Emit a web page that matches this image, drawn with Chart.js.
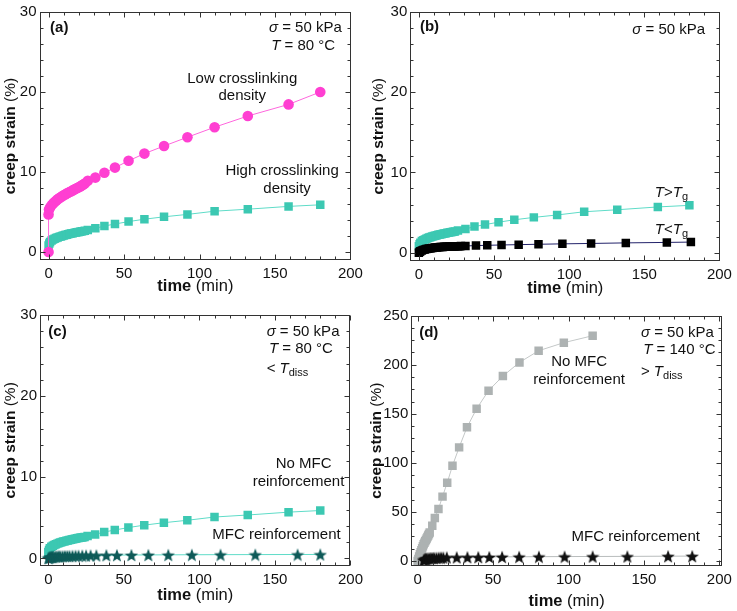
<!DOCTYPE html>
<html>
<head>
<meta charset="utf-8">
<script src="https://cdn.jsdelivr.net/npm/chart.js@4.4.1/dist/chart.umd.min.js"></script>
<style>
  body { margin: 0; background: #fff; }
  #wrap { position: relative; width: 737px; height: 611px; }
  canvas { position: absolute; }
</style>
</head>
<body>
<div id="wrap">
  <canvas id="chartA" width="368" height="300" style="left:0;top:0"></canvas>
  <canvas id="chartB" width="370" height="300" style="left:367px;top:0"></canvas>
  <canvas id="chartC" width="368" height="311" style="left:0;top:300px"></canvas>
  <canvas id="chartD" width="370" height="311" style="left:367px;top:300px"></canvas>
</div>
<script>
// tick labels
const xTicks = [0, 50, 100, 150, 200];
const yTicksSmall = [0, 10, 20, 30];
const yTicksD = [0, 50, 100, 150, 200, 250];

// high crosslinking / T>Tg / no MFC at 80 °C (teal squares, panels a, b, c)
const highTime = [0, 0.5, 1, 2, 3, 4, 5, 6, 7, 8, 9, 10, 11, 12, 13, 14, 15, 16, 17, 18, 19, 20, 21, 22, 23, 24,
  26, 31, 37, 44, 53, 63.5, 76.5, 92, 110, 132, 159, 180];
const highStrain = [0.8, 1.05, 1.25, 1.45, 1.55, 1.65, 1.75, 1.82, 1.89, 1.95, 2.01, 2.07, 2.12, 2.17, 2.22, 2.27,
  2.31, 2.35, 2.39, 2.43, 2.47, 2.5, 2.54, 2.58, 2.61, 2.65,
  2.75, 2.96, 3.25, 3.5, 3.8, 4.1, 4.4, 4.7, 5.1, 5.35, 5.7, 5.9];

// low crosslinking (pink circles, panel a)
const lowTime = [0, 0, 0.3, 1, 2, 3, 4, 5, 6, 7, 8, 9, 10, 11, 12, 13, 14, 15, 16, 17, 18, 19, 20, 21, 22, 23, 24,
  26, 31, 37, 44, 53, 63.5, 76.5, 92, 110, 132, 159, 180];
const lowStrain = [0, 4.7, 5.3, 5.55, 5.85, 6.05, 6.25, 6.42, 6.58, 6.72, 6.85, 6.97, 7.08, 7.19, 7.3, 7.4, 7.5,
  7.6, 7.7, 7.8, 7.9, 8.0, 8.1, 8.2, 8.32, 8.44, 8.55,
  8.9, 9.3, 9.9, 10.55, 11.4, 12.3, 13.25, 14.35, 15.6, 17.0, 18.45, 20.0];

// T<Tg (black squares, panel b)
const coldTime = [0, 0.5, 1, 2, 3, 4, 5, 6, 7, 8, 9, 10, 11, 12, 13, 14, 15, 16, 17, 18, 19, 20, 21, 22, 23, 24,
  25, 26, 27, 28, 31, 38, 45.5, 55, 66.4, 79.6, 95.5, 114.6, 137.7, 165, 181];
const coldStrain = [0, 0.1, 0.18, 0.28, 0.35, 0.4, 0.45, 0.49, 0.53, 0.56, 0.59, 0.62, 0.64, 0.66, 0.68, 0.7,
  0.71, 0.72, 0.73, 0.74, 0.75, 0.76, 0.77, 0.78, 0.78, 0.79, 0.8, 0.8, 0.81, 0.82,
  0.84, 0.88, 0.92, 0.96, 1.0, 1.05, 1.1, 1.15, 1.22, 1.28, 1.32];

// MFC reinforcement at 80 °C (stars, panel c)
const mfcTimeC = [0, 0.5, 1, 1.5, 2, 2.5, 3, 4, 5, 6, 7, 8, 9.5, 11, 12.5, 14, 16, 18, 20, 22.5, 25, 28,
  31.8, 38.4, 45.4, 55, 66.2, 79.4, 95, 114, 137, 165, 180];
const mfcStrainC = [0.05, 0.1, 0.13, 0.16, 0.18, 0.2, 0.21, 0.23, 0.24, 0.25, 0.26, 0.27, 0.28, 0.29, 0.3, 0.31,
  0.32, 0.33, 0.34, 0.35, 0.36, 0.37,
  0.38, 0.4, 0.41, 0.42, 0.43, 0.44, 0.45, 0.46, 0.47, 0.48, 0.49];

// no MFC at 140 °C (grey squares, panel d)
const noMfcTimeD = [0, 0.5, 1, 1.5, 2, 2.5, 3, 3.5, 4, 4.5, 5, 5.5, 6, 6.5, 7, 7.5, 8,
  9.7, 11.4, 13.8, 16.5, 19.6, 23.1, 27.5, 32.7, 39.1, 47, 56.5, 67.5, 80.2, 96.9, 116];
const noMfcStrainD = [0, 2, 4.5, 7, 9, 11, 13, 15, 17, 18.5, 20, 21.5, 23, 24.5, 26, 27.5, 29,
  36, 43.8, 53, 65.6, 79.8, 97.1, 115.8, 136.2, 155.2, 173.6, 188.5, 202.4, 214.3, 222.5, 229.6];

// MFC reinforcement at 140 °C (black stars, panel d)
const mfcTimeD = [4, 4.5, 5, 5.5, 6, 7, 8, 9, 10, 11, 12.5, 14, 15.5, 17,
  19.3, 25.9, 33, 40.2, 47.5, 56, 67.3, 80.4, 97.4, 116, 139, 166, 182];
const mfcStrainD = [1.0, 1.5, 2.0, 2.3, 2.5, 2.7, 2.9, 3.0, 3.1, 3.2, 3.3, 3.4, 3.5, 3.6,
  3.7, 3.8, 3.9, 4.0, 4.1, 4.2, 4.3, 4.4, 4.5, 4.6, 4.7, 4.9, 5.0];

const FONT = "'Liberation Sans', Arial, sans-serif";
Chart.defaults.font.family = FONT;
Chart.defaults.animation = false;

// filled 5-point star used as marker
function starImage(color, size) {
  const c = document.createElement("canvas");
  c.width = size;
  c.height = size;
  const g = c.getContext("2d");
  const r = size / 2, ri = r * 0.42;
  g.beginPath();
  for (let i = 0; i < 10; i++) {
    const rad = i % 2 ? ri : r;
    const ang = -Math.PI / 2 + (i * Math.PI) / 5;
    g.lineTo(r + rad * Math.cos(ang), r + 0.8 + rad * Math.sin(ang));
  }
  g.closePath();
  g.fillStyle = color;
  g.fill();
  return c;
}

function pts(xs, ys) {
  return xs.map((x, i) => ({ x: x, y: ys[i] }));
}

function series(xs, ys, marker, fill, line, radius, order) {
  return {
    data: pts(xs, ys),
    showLine: true,
    tension: 0,
    borderWidth: 1,
    borderColor: line,
    pointStyle: marker,
    pointRadius: radius,
    pointBackgroundColor: fill,
    pointBorderColor: fill,
    pointBorderWidth: 0,
    order: order,
  };
}

// text with italic / bold / subscript pieces
function drawRich(ctx, parts, x, y, align, size) {
  size = size || 15;
  const fontFor = (p) =>
    (p.i ? "italic " : "") + (p.b ? "bold " : "") + (p.sub ? 11 : size) + "px " + FONT;
  let w = 0;
  parts.forEach((p) => {
    ctx.font = fontFor(p);
    w += ctx.measureText(p.t).width;
  });
  let cx = align === "center" ? x - w / 2 : x;
  ctx.textAlign = "left";
  ctx.textBaseline = "middle";
  parts.forEach((p) => {
    ctx.font = fontFor(p);
    ctx.fillText(p.t, cx, y + (p.sub ? 4 : 0));
    cx += ctx.measureText(p.t).width;
  });
}

const framePlugin = {
  id: "frame",
  afterDraw(chart, args, opts) {
    const { ctx, chartArea: a } = chart;
    const xs = chart.scales.x, ys = chart.scales.y;
    ctx.save();
    ctx.strokeStyle = "#333";
    ctx.lineWidth = 1;
    const L = Math.round(a.left) + 0.5, R = Math.round(a.right) - 0.5;
    const T = Math.round(a.top) + 0.5, B = Math.round(a.bottom) - 0.5;
    ctx.strokeRect(L, T, R - L, B - T);

    ctx.beginPath();
    for (let v = Math.ceil(xs.min / opts.xMinor) * opts.xMinor; v <= xs.max; v += opts.xMinor) {
      const p = Math.round(xs.getPixelForValue(v)) + 0.5;
      const len = v % opts.xMajor === 0 ? 5 : 3;
      ctx.moveTo(p, B); ctx.lineTo(p, B - len);
      ctx.moveTo(p, T); ctx.lineTo(p, T + len);
    }
    for (let v = Math.ceil(ys.min / opts.yMinor) * opts.yMinor; v <= ys.max; v += opts.yMinor) {
      const p = Math.round(ys.getPixelForValue(v)) + 0.5;
      const len = Math.abs(v % opts.yMajor) < 1e-6 ? 5 : 3;
      ctx.moveTo(L, p); ctx.lineTo(L + len, p);
      ctx.moveTo(R, p); ctx.lineTo(R - len, p);
    }
    ctx.stroke();

    ctx.fillStyle = "#111";
    // axis titles
    drawRich(ctx, [{ t: "time", b: 1 }, { t: " (min)" }], (a.left + a.right) / 2, opts.xTitleY, "center", 16.5);
    ctx.save();
    ctx.translate(opts.yTitleX, (a.top + a.bottom) / 2);
    ctx.rotate(-Math.PI / 2);
    drawRich(ctx, [{ t: "creep strain", b: 1 }, { t: " (%)" }], 0, 0, "center", 15.5);
    ctx.restore();

    // annotations placed in data coordinates
    opts.notes.forEach((n) => {
      drawRich(ctx, n.parts, xs.getPixelForValue(n.x), ys.getPixelForValue(n.y), n.align);
    });
    ctx.restore();
  },
};

function panel(id, p) {
  const canvas = document.getElementById(id);
  return new Chart(canvas, {
    type: "line",
    data: { datasets: p.datasets },
    options: {
      responsive: false,
      animation: false,
      layout: { padding: { left: 0, top: p.area.top, right: canvas.width - p.area.right, bottom: 0 } },
      plugins: {
        legend: { display: false },
        tooltip: { enabled: false },
        frame: p.frame,
      },
      scales: {
        x: {
          type: "linear",
          min: p.xMin,
          max: p.xMax,
          grid: { display: false, drawTicks: false },
          border: { display: false },
          afterBuildTicks: (s) => { s.ticks = xTicks.map((v) => ({ value: v })); },
          afterFit: (s) => { s.height = canvas.height - p.area.bottom; },
          ticks: { padding: 5, font: { size: 15 }, color: "#111", maxRotation: 0 },
        },
        y: {
          type: "linear",
          min: p.yMin,
          max: p.yMax,
          grid: { display: false, drawTicks: false },
          border: { display: false },
          afterBuildTicks: (s) => { s.ticks = p.yTicks.map((v) => ({ value: v })); },
          afterFit: (s) => { s.width = p.area.left; },
          ticks: { padding: 3, font: { size: 15 }, color: "#111" },
        },
      },
    },
    plugins: [framePlugin],
  });
}

const PINK = "#ff3fd2";
const TEAL = "#3cc8b2";
const TEAL_LINE = "#5fdcc8";

const sigma = [{ t: "σ", i: 1 }, { t: " = 50 kPa" }];

// (a) crosslinking density
panel("chartA", {
  area: { left: 39.5, top: 9, right: 352.7, bottom: 260 },
  xMin: -6, xMax: 200.5, yMin: -1, yMax: 30, yTicks: yTicksSmall,
  datasets: [
    series(lowTime, lowStrain, "circle", PINK, "#ff66dd", 5.3, 1),
    series(highTime, highStrain, "rect", TEAL, TEAL_LINE, 6, 2),
  ],
  frame: {
    xMinor: 10, xMajor: 50, yMinor: 2, yMajor: 10, xTitleY: 286.5, yTitleX: 11,
    notes: [
      { x: 1, y: 28, align: "left", parts: [{ t: "(a)", b: 1 }] },
      { x: 146, y: 28, align: "left", parts: sigma },
      { x: 147.5, y: 25.8, align: "left", parts: [{ t: "T", i: 1 }, { t: " = 80 °C" }] },
      { x: 128.3, y: 21.7, align: "center", parts: [{ t: "Low crosslinking" }] },
      { x: 128.3, y: 19.5, align: "center", parts: [{ t: "density" }] },
      { x: 154.7, y: 10.15, align: "center", parts: [{ t: "High crosslinking" }] },
      { x: 158, y: 7.9, align: "center", parts: [{ t: "density" }] },
    ],
  },
});

// (b) above / below Tg
panel("chartB", {
  area: { left: 43.3, top: 9, right: 356, bottom: 260.7 },
  xMin: -5.7, xMax: 200.6, yMin: -1, yMax: 30, yTicks: yTicksSmall,
  datasets: [
    series(coldTime, coldStrain, "rect", "#000", "#22226a", 6, 1),
    series(highTime, highStrain, "rect", TEAL, TEAL_LINE, 6, 2),
  ],
  frame: {
    xMinor: 10, xMajor: 50, yMinor: 2, yMajor: 10, xTitleY: 288.3, yTitleX: 11.7,
    notes: [
      { x: 0.7, y: 28.2, align: "left", parts: [{ t: "(b)", b: 1 }] },
      { x: 142, y: 27.8, align: "left", parts: sigma },
      { x: 157, y: 7.5, align: "left", parts: [{ t: "T", i: 1 }, { t: ">" }, { t: "T", i: 1 }, { t: "g", sub: 1 }] },
      { x: 157, y: 2.8, align: "left", parts: [{ t: "T", i: 1 }, { t: "<" }, { t: "T", i: 1 }, { t: "g", sub: 1 }] },
    ],
  },
});

// (c) MFC reinforcement below Tdiss
panel("chartC", {
  area: { left: 40, top: 15, right: 351.7, bottom: 265.7 },
  xMin: -5.5, xMax: 200, yMin: -0.9, yMax: 30, yTicks: yTicksSmall,
  datasets: [
    series(mfcTimeC, mfcStrainC, starImage("#0e5a58", 14), "#0e5a58", TEAL_LINE, 7, 1),
    series(highTime, highStrain, "rect", TEAL, TEAL_LINE, 6, 2),
  ],
  frame: {
    xMinor: 10, xMajor: 50, yMinor: 2, yMajor: 10, xTitleY: 295, yTitleX: 10.7,
    notes: [
      { x: 0, y: 27.9, align: "left", parts: [{ t: "(c)", b: 1 }] },
      { x: 144.5, y: 27.9, align: "left", parts: sigma },
      { x: 146, y: 25.8, align: "left", parts: [{ t: "T", i: 1 }, { t: " = 80 °C" }] },
      { x: 144.5, y: 23.4, align: "left", parts: [{ t: "< " }, { t: "T", i: 1 }, { t: "diss", sub: 1 }] },
      { x: 169, y: 11.7, align: "center", parts: [{ t: "No MFC" }] },
      { x: 165.6, y: 9.4, align: "center", parts: [{ t: "reinforcement" }] },
      { x: 151, y: 2.9, align: "center", parts: [{ t: "MFC reinforcement" }] },
    ],
  },
});

// (d) MFC reinforcement above Tdiss
panel("chartD", {
  area: { left: 44.3, top: 15.7, right: 356.7, bottom: 265.7 },
  xMin: -4.2, xMax: 201.7, yMin: -4.8, yMax: 250, yTicks: yTicksD,
  datasets: [
    series(mfcTimeD, mfcStrainD, starImage("#111", 14), "#111", "#b8bcbc", 7, 1),
    series(noMfcTimeD, noMfcStrainD, "rect", "#adb2b2", "#c4c8c8", 6, 2),
  ],
  frame: {
    xMinor: 10, xMajor: 50, yMinor: 12.5, yMajor: 50, xTitleY: 301.7, yTitleX: 10,
    notes: [
      { x: 1, y: 233, align: "left", parts: [{ t: "(d)", b: 1 }] },
      { x: 148, y: 233, align: "left", parts: sigma },
      { x: 149.5, y: 215, align: "left", parts: [{ t: "T", i: 1 }, { t: " = 140 °C" }] },
      { x: 148, y: 192.6, align: "left", parts: [{ t: "> " }, { t: "T", i: 1 }, { t: "diss", sub: 1 }] },
      { x: 107, y: 203, align: "center", parts: [{ t: "No MFC" }] },
      { x: 107, y: 184.5, align: "center", parts: [{ t: "reinforcement" }] },
      { x: 144.6, y: 24.5, align: "center", parts: [{ t: "MFC reinforcement" }] },
    ],
  },
});
</script>
</body>
</html>
